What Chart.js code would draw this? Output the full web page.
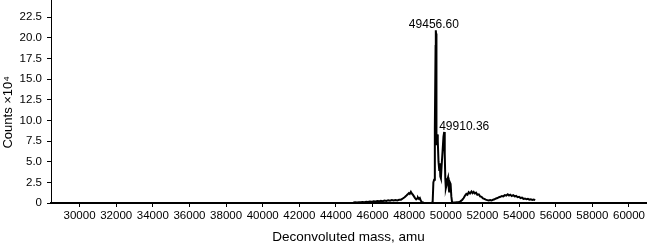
<!DOCTYPE html>
<html>
<head>
<meta charset="utf-8">
<script src="https://cdn.jsdelivr.net/npm/chart.js@4/dist/chart.umd.min.js"></script>
<style>
  body { margin: 0; background: #fff; }
  #wrap { width: 649px; height: 245px; position: relative; }
</style>
</head>
<body>
<div id="wrap"><canvas id="spectrum"></canvas></div>
<script>
// deconvoluted masses (amu) and counts (x10^4)
const massAmu = [
  44950, 45050, 45150, 45250, 45350, 45450, 45550, 45650, 45750, 45850,
  45950, 46050, 46150, 46250, 46350, 46450, 46550, 46650, 46750, 46850,
  46950, 47050, 47150, 47250, 47350, 47450, 47550, 47650, 47750, 47850,
  47920, 47980, 48030, 48090, 48140, 48200, 48260, 48320, 48380, 48430,
  48480, 48530, 48580, 48630, 48700, 48800, 48900, 49000, 49100, 49200,
  49280, 49320, 49360, 49400, 49440, 49450, 49456.6, 49465, 49475, 49500,
  49530, 49560, 49600, 49640, 49670, 49700, 49730, 49770, 49820, 49870,
  49910.36, 49940, 49970, 50000, 50040, 50080, 50120, 50150, 50180, 50220,
  50260, 50300, 50340, 50400, 50500, 50600, 50700, 50800, 50900, 50975,
  51050, 51120, 51180, 51250, 51320, 51400, 51460, 51520, 51580, 51650,
  51720, 51800, 51870, 51950, 52030, 52100, 52180, 52260, 52340, 52420,
  52500, 52580, 52660, 52740, 52820, 52900, 52980, 53060, 53140, 53220,
  53300, 53380, 53450, 53520, 53600, 53680, 53760, 53840, 53920, 54000,
  54080, 54160, 54240, 54320, 54400, 54480, 54560, 54640, 54720, 54800,
  54880
];
const countsE4 = [
  0.05, 0.08, 0.06, 0.10, 0.08, 0.12, 0.10, 0.15, 0.12, 0.18,
  0.14, 0.20, 0.17, 0.24, 0.20, 0.28, 0.22, 0.30, 0.25, 0.32,
  0.27, 0.35, 0.30, 0.36, 0.31, 0.38, 0.40, 0.55, 0.70, 0.90,
  1.05, 1.20, 1.10, 1.35, 1.15, 1.00, 0.80, 0.60, 0.45, 0.55,
  0.65, 0.50, 0.60, 0.30, 0.08, 0.02, 0.00, 0.00, 0.00, 0.02,
  0.05, 2.50, 2.80, 9.00, 19.0, 20.6, 20.9, 20.5, 12.0, 7.00,
  8.30, 7.50, 5.00, 4.00, 4.80, 3.20, 3.00, 4.50, 6.20, 8.00,
  8.60, 6.00, 3.00, 1.80, 2.20, 2.80, 3.10, 2.00, 1.40, 2.50,
  2.30, 0.80, 0.10, 0.05, 0.05, 0.08, 0.10, 0.20, 0.40, 0.60,
  0.90, 1.10, 1.00, 1.30, 1.15, 1.40, 1.20, 1.35, 1.15, 1.25,
  1.00, 1.05, 0.80, 0.75, 0.55, 0.50, 0.40, 0.35, 0.30, 0.35,
  0.30, 0.40, 0.45, 0.55, 0.60, 0.70, 0.75, 0.85, 0.80, 0.95,
  0.90, 1.05, 0.90, 1.00, 0.85, 0.95, 0.80, 0.85, 0.70, 0.75,
  0.60, 0.65, 0.50, 0.55, 0.45, 0.50, 0.40, 0.45, 0.38, 0.42,
  0.35
];

// axis ticks
const massTicks = [30000, 32000, 34000, 36000, 38000, 40000, 42000, 44000,
  46000, 48000, 50000, 52000, 54000, 56000, 58000, 60000];
const countTicks = [0, 2.5, 5, 7.5, 10, 12.5, 15, 17.5, 20, 22.5];

// labelled peaks
const peakMasses = [49456.6, 49910.36];
const peakCounts = [20.9, 8.6];
const peakTexts = ['49456.60', '49910.36'];

const points = massAmu.map((m, i) => ({ x: m, y: countsE4[i] }));

const fontFamily = '"Liberation Sans", Arial, Helvetica, sans-serif';

const peakLabels = {
    id: 'peakLabels',
    afterDatasetsDraw(chart) {
        const ctx = chart.ctx;
        const xs = chart.scales.x;
        const ys = chart.scales.y;
        ctx.save();
        ctx.fillStyle = '#000';
        ctx.font = '12px ' + fontFamily;
        ctx.textBaseline = 'alphabetic';
        peakMasses.forEach((m, i) => {
            const px = xs.getPixelForValue(m);
            const py = ys.getPixelForValue(peakCounts[i]);
            if (i === 0) {
                ctx.textAlign = 'center';
                ctx.fillText(peakTexts[i], px - 2, py - 2);
            } else {
                ctx.textAlign = 'left';
                ctx.fillText(peakTexts[i], px - 5, py - 2);
            }
        });
        ctx.restore();
    }
};

new Chart(document.getElementById('spectrum'), {
    type: 'scatter',
    data: {
        datasets: [{
            data: points,
            showLine: true,
            borderColor: '#000',
            borderWidth: 2,
            pointRadius: 0,
            tension: 0
        }]
    },
    options: {
        responsive: true,
        maintainAspectRatio: false,
        animation: false,
        layout: { padding: { top: 0, right: 3, bottom: 0, left: 0 } },
        plugins: {
            legend: { display: false },
            tooltip: { enabled: false }
        },
        scales: {
            x: {
                type: 'linear',
                min: 28440,
                max: 60930,
                afterBuildTicks(scale) { scale.ticks = massTicks.map(v => ({ value: v })); },
                afterFit(scale) { scale.height = 42; },
                border: { display: true, color: '#000', width: 2 },
                grid: { drawOnChartArea: false, drawTicks: true, tickLength: 4, color: '#000' },
                ticks: {
                    autoSkip: false,
                    maxRotation: 0,
                    padding: 2,
                    color: '#000',
                    font: { family: fontFamily, size: 11.5 },
                    callback: v => String(v)
                },
                title: {
                    display: true,
                    text: 'Deconvoluted mass, amu',
                    color: '#000',
                    font: { family: fontFamily, size: 13.5 },
                    padding: { top: 0, bottom: 0 }
                }
            },
            y: {
                min: 0,
                max: 24.56,
                afterBuildTicks(scale) { scale.ticks = countTicks.map(v => ({ value: v })); },
                afterFit(scale) {
                    scale.width = 51;
                    scale.paddingTop = 0;
                },
                border: { display: true, color: '#000', width: 1 },
                grid: { drawOnChartArea: false, drawTicks: true, tickLength: 4, color: '#000' },
                ticks: {
                    padding: 5,
                    color: '#000',
                    font: { family: fontFamily, size: 11.5 },
                    callback: v => v === 0 ? '0' : v.toFixed(1)
                },
                title: {
                    display: true,
                    text: 'Counts ×10⁴\u00a0\u00a0\u00a0\u00a0\u00a0\u00a0',
                    color: '#000',
                    font: { family: fontFamily, size: 13 },
                    padding: { top: 1, bottom: 0 }
                }
            }
        }
    },
    plugins: [peakLabels]
});
</script>
</body>
</html>
